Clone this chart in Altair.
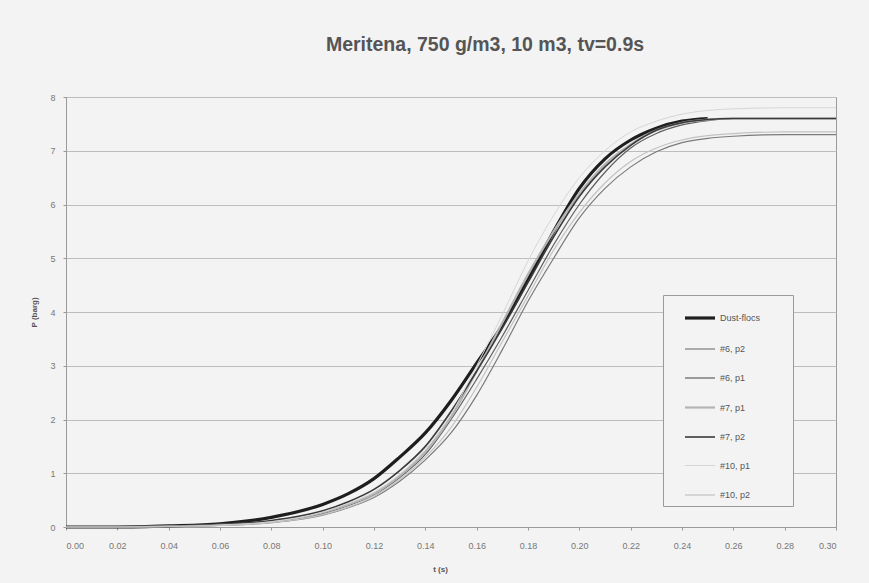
import altair as alt
import pandas as pd

t_vals = [0.00, 0.02, 0.04, 0.06, 0.08, 0.10, 0.11, 0.12, 0.13, 0.14, 0.15, 0.16,
          0.17, 0.18, 0.19, 0.20, 0.21, 0.22, 0.23, 0.24, 0.25, 0.26, 0.28, 0.30]

series_names = ["Dust-flocs", "#6, p2", "#6, p1", "#7, p1", "#7, p2", "#10, p1", "#10, p2"]

dust_flocs = [0.0, 0.0, 0.02, 0.06, 0.18, 0.42, 0.62, 0.9, 1.3, 1.75, 2.35, 3.05,
              3.75, 4.6, 5.5, 6.3, 6.85, 7.2, 7.42, 7.55, 7.6]
s6_p2 = [0.0, 0.0, 0.01, 0.03, 0.08, 0.22, 0.36, 0.55, 0.85, 1.25, 1.75, 2.45,
         3.3, 4.2, 5.0, 5.75, 6.3, 6.7, 6.98, 7.15, 7.23, 7.27, 7.3, 7.3]
s6_p1 = [0.0, 0.0, 0.01, 0.04, 0.09, 0.25, 0.4, 0.6, 0.92, 1.35, 2.0, 2.75,
         3.55, 4.4, 5.25, 6.0, 6.6, 7.05, 7.32, 7.48, 7.56, 7.6, 7.6, 7.6]
s7_p1 = [0.0, 0.0, 0.01, 0.04, 0.1, 0.27, 0.42, 0.62, 0.95, 1.4, 2.05, 2.9,
         3.8, 4.7, 5.5, 6.2, 6.75, 7.12, 7.38, 7.52, 7.58, 7.6, 7.6, 7.6]
s7_p2 = [0.0, 0.0, 0.01, 0.05, 0.12, 0.3, 0.47, 0.7, 1.05, 1.5, 2.15, 2.9,
         3.7, 4.55, 5.4, 6.15, 6.7, 7.1, 7.38, 7.52, 7.58, 7.6, 7.6, 7.6]
s10_p1 = [0.0, 0.0, 0.01, 0.04, 0.1, 0.28, 0.44, 0.65, 0.98, 1.45, 2.1, 3.0,
          3.95, 4.95, 5.8, 6.5, 7.0, 7.35, 7.55, 7.68, 7.75, 7.78, 7.8, 7.8]
s10_p2 = [0.0, 0.0, 0.01, 0.03, 0.08, 0.23, 0.37, 0.57, 0.88, 1.3, 1.85, 2.6,
          3.45, 4.3, 5.15, 5.85, 6.4, 6.8, 7.05, 7.2, 7.28, 7.32, 7.35, 7.35]

all_series = [dust_flocs, s6_p2, s6_p1, s7_p1, s7_p2, s10_p1, s10_p2]

colors = ["#1e1e1e", "#7a7a7a", "#5e5e5e", "#b4b4b4", "#3a3a3a", "#d6d6d6", "#c2c2c2"]
widths = [3.2, 1.2, 1.2, 2.2, 1.6, 1.0, 1.2]

rows = []
for name, vals in zip(series_names, all_series):
    for i, v in enumerate(vals):
        rows.append({"t": t_vals[i], "P": v, "series": name, "order": series_names.index(name)})
df = pd.DataFrame(rows)

title_text = "Meritena, 750 g/m3, 10 m3, tv=0.9s"

# invisible legend title on the right side widens the box to the reference's size
legend = alt.Legend(title="Dust-fl", titleOrient="right", titleColor="#f3f3f3",
                    titleFontSize=9, titleFontWeight="normal", titlePadding=0,
                    orient="none", legendX=597, legendY=198,
                    symbolType="stroke", symbolSize=900, labelFontSize=9,
                    labelColor="#555", labelFont="Liberation Sans",
                    strokeColor="#9a9a9a", fillColor="#f3f3f3", padding=6,
                    rowPadding=8, symbolOffset=14, labelOffset=3)

chart = alt.Chart(df).mark_line(interpolate="monotone", clip=False).encode(
    x=alt.X("t:Q", scale=alt.Scale(domain=[0, 0.30], nice=False),
            axis=alt.Axis(title="t (s)", values=[round(0.02 * i, 2) for i in range(16)],
                          format=".2f", grid=False, titleX=374, titleY=38, labelPadding=11)),
    y=alt.Y("P:Q", scale=alt.Scale(domain=[0, 8], nice=False),
            axis=alt.Axis(title="P (barg)", values=list(range(9)), grid=True,
                          titleX=-28, titleY=215)),
    color=alt.Color("series:N", scale=alt.Scale(domain=series_names, range=colors),
                    legend=legend, sort=series_names),
    strokeWidth=alt.StrokeWidth("series:N",
                                scale=alt.Scale(type="ordinal", domain=series_names, range=widths),
                                legend=legend, sort=series_names),
    order=alt.Order("order:Q", sort="descending"),
).properties(
    width=770, height=430,
    title=alt.TitleParams(title_text, fontSize=19.5, font="Liberation Sans", fontWeight="bold",
                          color="#555", dx=34, offset=38),
    background="#f3f3f3",
    padding={"left": 66, "top": 97, "right": 33, "bottom": 56},
    autosize="none",
).configure_view(
    stroke="#9a9a9a", strokeWidth=1, fill="#f3f3f3"
).configure_axis(
    labelFont="Liberation Sans", labelFontSize=9, labelColor="#777",
    titleFont="Liberation Sans", titleFontSize=8, titleColor="#555", titleFontWeight="bold",
    domainColor="#9a9a9a", tickColor="#9a9a9a", tickSize=3, gridColor="#bdbdbd",
    gridWidth=1, labelPadding=8,
)

chart.save("out.html", embed_options={"renderer": "svg", "actions": False})
